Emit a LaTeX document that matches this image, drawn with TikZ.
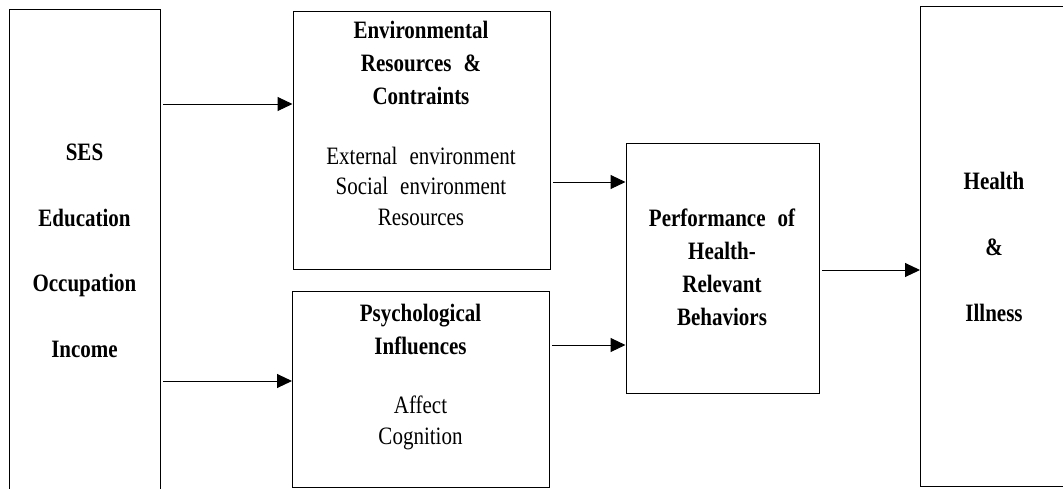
\documentclass[tikz,border=0pt]{standalone}
\usepackage{fontspec}
\setmainfont{Liberation Serif}[FakeStretch=0.84]
\usetikzlibrary{arrows.meta}
\newcommand\wgap{\hspace{12pt}}
\begin{document}
% Each text node is placed by the baseline of its last line (anchor=base).
\begin{tikzpicture}[x=1pt,y=-1pt,
  box/.style={draw=black, line width=1.1pt, anchor=north west, inner sep=0pt},
  flow/.style={draw=black, line width=1pt, shorten <=2pt,
    -{Triangle[length=15pt,width=14pt]}},
  title/.style={font=\bfseries\fontsize{25}{33}\selectfont, align=center,
    anchor=base, inner sep=0pt},
  body/.style={font=\fontsize{25}{30.5}\selectfont, align=center,
    anchor=base, inner sep=0pt}]
\useasboundingbox (0,0) rectangle (1063,488);
\clip (0,0) rectangle (1063,488);

% boxes
\node[box, minimum width=151pt, minimum height=500pt] (ses) at (9,9) {};
\node[box, minimum width=257.5pt, minimum height=258pt] (env) at (292.5,11) {};
\node[box, minimum width=257pt, minimum height=196pt] (psych) at (292,291) {};
\node[box, minimum width=193.5pt, minimum height=250pt] (perf) at (625.5,143) {};
\node[box, minimum width=150pt, minimum height=480pt] (health) at (920,6) {};

% texts
\node[title, font=\bfseries\fontsize{25}{65.5}\selectfont] (sestext) at (84.5,357)
  {SES\\Education\\Occupation\\Income};
\node[title] (envtitle) at (421,104) {Environmental\\Resources\wgap\&\\Contraints};
\node[body] (envbody) at (421,225)
  {External\wgap environment\\Social\wgap environment\\Resources};
\node[title] (psychtitle) at (420.5,354) {Psychological\\Influences};
\node[body] (psychbody) at (420.5,444) {Affect\\Cognition};
\node[title] (perftext) at (722,325.7)
  {Performance\wgap of\\Health-\\Relevant\\Behaviors};
\node[title, font=\bfseries\fontsize{25}{66}\selectfont] (healthtext) at (994,321)
  {Health\\\&\\Illness};

% connectors
\draw[flow] (ses.east |- 0,104) -- (env.west |- 0,104);
\draw[flow] (ses.east |- 0,381) -- (psych.west |- 0,381);
\draw[flow] (env.east |- 0,182) -- (perf.west |- 0,182);
\draw[flow] (psych.east |- 0,345) -- (perf.west |- 0,345);
\draw[flow] (perf.east |- 0,270) -- (health.west |- 0,270);
\end{tikzpicture}
\end{document}
